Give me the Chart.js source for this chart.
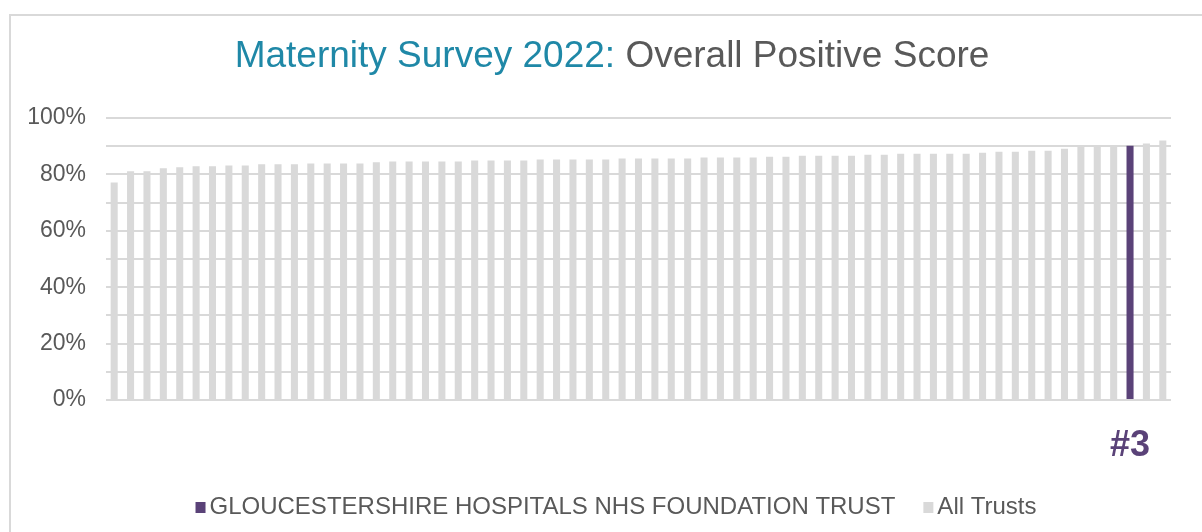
<!DOCTYPE html>
<html><head><meta charset="utf-8">
<script src="https://cdn.jsdelivr.net/npm/chart.js@4/dist/chart.umd.min.js"></script>
<style>
html,body{margin:0;padding:0;background:#fff;overflow:hidden}
#wrap{position:absolute;left:0;top:0;width:1202px;height:532px}
</style></head>
<body><div id="wrap"><canvas id="c" width="1202" height="532"></canvas></div>
<script>
// ---- data ----
const titleLead = 'Maternity Survey 2022:';
const titleRest = ' Overall Positive Score';
const trustLabel = 'GLOUCESTERSHIRE HOSPITALS NHS FOUNDATION TRUST';
const allLabel = 'All Trusts';
const rankText = '#3';
// trusts ordered from lowest to highest overall positive score (rank 65 .. rank 1)
const ranks = ['65','64','63','62','61','60','59','58','57','56','55','54','53','52','51','50','49','48','47','46',
  '45','44','43','42','41','40','39','38','37','36','35','34','33','32','31','30','29','28','27','26',
  '25','24','23','22','21','20','19','18','17','16','15','14','13','12','11','10','9','8','7','6',
  '5','4','3','2','1'];
const scores = [77.1,81.1,81.1,82.2,82.5,82.9,82.9,83.2,83.2,83.6,83.6,83.6,83.9,83.9,83.9,83.9,84.3,84.6,84.6,84.6,
  84.6,84.6,84.9,84.9,84.9,84.9,85.3,85.3,85.3,85.3,85.3,85.6,85.6,85.6,85.6,85.6,86.0,86.0,86.0,86.0,
  86.3,86.3,86.6,86.6,86.6,86.6,87.0,87.0,87.3,87.3,87.3,87.3,87.3,87.7,88.0,88.0,88.4,88.4,89.1,89.8,
  89.8,89.8,90.2,91.0,92.0];
const highlightRank = '3';
const yTickValues = [0,10,20,30,40,50,60,70,80,90,100];

// ---- build datasets ----
const hi = ranks.indexOf(highlightRank);
const trustData = scores.map((v,i)=> i===hi ? v : null);
const allData = scores.map((v,i)=> i===hi ? null : v);

const PURPLE = '#5a4278', GREY = '#d9d9d9', TEXT = '#595959', TEAL = '#1f88a7';
const FONT = '"Liberation Sans", Arial, sans-serif';

const decor = {
  id:'decor',
  beforeDraw(chart){
    const ctx = chart.ctx;
    ctx.save();
    ctx.fillStyle = '#fff';
    ctx.fillRect(0,0,chart.width,chart.height);
    ctx.strokeStyle = GREY; ctx.lineWidth = 2;
    ctx.strokeRect(10,15,1400,700);
    ctx.restore();
  },
  afterDraw(chart){
    const ctx = chart.ctx;
    ctx.save();
    // title
    ctx.font = '37px ' + FONT;
    ctx.textBaseline = 'alphabetic';
    ctx.textAlign = 'left';
    const w1 = ctx.measureText(titleLead).width, w2 = ctx.measureText(titleRest).width;
    let x = 612 - (w1+w2)/2;
    ctx.fillStyle = TEAL; ctx.fillText(titleLead, x, 67);
    ctx.fillStyle = TEXT; ctx.fillText(titleRest, x + w1, 67);
    // rank label under highlighted bar
    const xs = chart.scales.x;
    ctx.font = 'bold 36px ' + FONT;
    ctx.fillStyle = PURPLE; ctx.textAlign = 'center';
    ctx.fillText(rankText, xs.getPixelForValue(hi), 456);
    // legend
    ctx.font = '24px ' + FONT;
    ctx.textAlign = 'left';
    const items = chart.data.datasets.map(d=>({t:d.label,c:d.backgroundColor}));
    const box = 10, gap = 4, itemGap = 28;
    const widths = items.map(it=>box+gap+ctx.measureText(it.t).width);
    const total = widths.reduce((a,b)=>a+b,0) + itemGap*(items.length-1);
    let lx = 616 - total/2;
    items.forEach((it,i)=>{
      ctx.fillStyle = it.c;
      ctx.fillRect(lx, 502, box, 11);
      ctx.fillStyle = TEXT;
      ctx.fillText(it.t, lx+box+gap, 514);
      lx += widths[i] + itemGap;
    });
    ctx.restore();
  }
};

new Chart(document.getElementById('c'), {
  type:'bar',
  data:{
    labels: ranks,
    datasets:[
      {label: trustLabel, data: trustData, backgroundColor: PURPLE, grouped:false, barPercentage:0.43, categoryPercentage:1},
      {label: allLabel, data: allData, backgroundColor: GREY, grouped:false, barPercentage:0.43, categoryPercentage:1}
    ]
  },
  options:{
    responsive:false,
    animation:false,
    devicePixelRatio:1,
    layout:{padding:{left:0,right:31,top:118,bottom:132}},
    plugins:{legend:{display:false}, title:{display:false}, tooltip:{enabled:false}},
    scales:{
      x:{display:false},
      y:{
        min:0,max:100,
        afterBuildTicks(scale){ scale.ticks = yTickValues.map(v=>({value:v})); },
        afterFit(scale){ scale.width = 106; },
        grid:{color:GREY, lineWidth:2, drawTicks:false},
        border:{display:false},
        ticks:{autoSkip:false, padding:20, color:TEXT, font:{family:FONT,size:23},
          callback:(v)=> v%20===0 ? v+'%' : ''}
      }
    }
  },
  plugins:[decor]
});
</script></body></html>
